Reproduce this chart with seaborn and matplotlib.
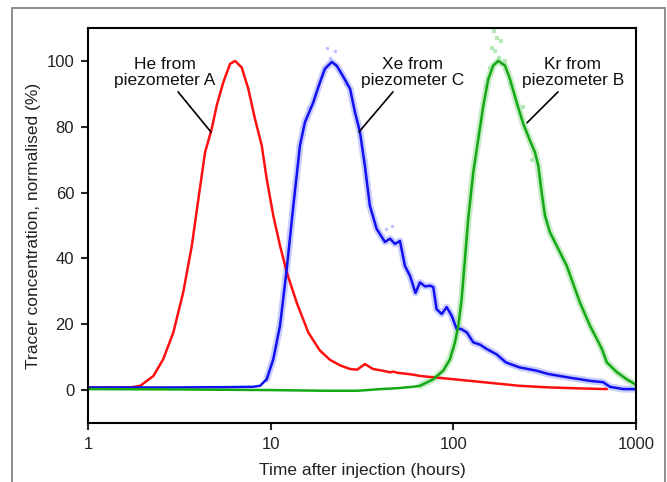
import numpy as np
import pandas as pd
import matplotlib
matplotlib.use("Agg")
import matplotlib.pyplot as plt
from matplotlib.patches import Rectangle
import seaborn as sns

# He from piezometer A (hours, % normalised)
he_t = [1, 1.4, 1.7, 1.93, 2.28, 2.58, 2.93, 3.32, 3.70, 4.02, 4.37, 4.75, 5.06, 5.50,
        5.99, 6.38, 6.94, 7.54, 8.20, 8.93, 9.51, 10.33, 11.24, 12.24, 13.87, 16.06,
        18.6, 21.1, 24.0, 27.2, 29.7, 32.8, 36.3, 40, 45, 47, 49, 60, 65.6, 77.5, 100,
        152, 230, 338, 500, 692]
he_y = [0.8, 0.8, 0.8, 1.3, 4.3, 9.4, 17.5, 29.7, 43.9, 58.1, 72.2, 79.3, 86.4, 93.5,
        99.1, 100, 98, 91.5, 82.4, 74.3, 64.1, 53, 43.9, 35.8, 26.6, 17.5,
        12, 9.2, 7.5, 6.4, 6.2, 7.9, 6.4, 6.0, 5.4, 5.6, 5.3, 4.7, 4.3, 3.9, 3.3,
        2.3, 1.3, 0.8, 0.5, 0.3]

# Xe from piezometer C
xe_t = [1, 3, 6, 8, 8.74, 9.51, 10.33, 11.24, 12.24, 13.3, 14.46, 15.4, 17.1, 18.6,
        19.8, 21.6, 23, 24.8, 27.2, 28.9, 30.8, 32.8, 34.9, 38, 42.2, 45, 47.9, 51,
        54.3, 57.9, 62, 65.6, 70, 74.5, 77.6, 80.9, 86.3, 91.9, 97.9, 104.3, 110, 118.5,
        128.5, 140, 151.9, 172, 194, 230, 285, 330, 381, 430, 493, 560, 660, 720,
        850, 1000]
xe_y = [0.8, 0.8, 0.9, 1.0, 1.3, 3.3, 9.4, 19.5, 36.8, 56, 74.3, 81.4, 87.4, 93.5,
        97.6, 99.7, 98.5, 95.5, 91.5, 84.5, 78.4, 68, 56, 49, 45, 46, 44.4, 45.3,
        37.7, 34.7, 29.5, 32.7, 31.5, 31.7, 31.3, 24.6, 23.1, 25.2, 22.6, 18.5, 18.6, 17.5,
        14.5, 13.8, 12.5, 10.9, 8.4, 6.9, 5.9, 4.9, 4.3, 3.8, 3.3, 2.8, 2.4, 1.0,
        0.3, 0.3]

# Kr from piezometer B
kr_t = [1, 3, 10, 20, 30, 40, 50, 60, 65.6, 77.6, 88.0, 95.8, 102, 106.4, 111, 115.7,
        120.6, 128.5, 136.9, 145.8, 155.3, 165.3, 176.1, 191.6, 204, 222, 241.3, 262.6,
        279.7, 291.5, 304.2, 317.2, 337.9, 367.5, 417, 493, 560, 617, 650, 692, 787,
        888, 986, 1000]
kr_y = [0.3, 0.2, 0.0, -0.2, -0.2, 0.3, 0.6, 1.0, 1.3, 3.3, 5.9, 9.4, 14.5, 19.5, 27.7,
        39.8, 52, 66.2, 76.3, 86.4, 94.5, 98.6, 100, 98.6, 94.5, 87.4, 80.9, 75.8,
        72.2, 68.2, 60.1, 53, 47.9, 43.9, 37.8, 26.6, 19.5, 15, 12.5, 8.4, 5.4,
        3.3, 1.8, 1.6]

# a few raw Kr readings around the peak that scatter above the smoothed line
kr_raw_t = [150, 158, 163, 167, 170, 174, 178, 182, 186, 192, 205, 240, 270, 300]
kr_raw_y = [92, 98, 104, 109, 103, 107, 101, 106, 99, 100, 93, 86, 70, 64]

# raw Xe readings around its peak
xe_raw_t = [14.8, 16.0, 17.5, 19.0, 20.3, 21.0, 22.5, 24.0, 25.5, 33.0, 43.0, 46.0]
xe_raw_y = [78, 86, 90, 96, 104, 101, 103, 97, 93, 70, 49, 50]

labels = ["He from\npiezometer A", "Xe from\npiezometer C", "Kr from\npiezometer B"]
colors = ["#ff1010", "#1010f0", "#14a814"]
halo_colors = ["#ffb0b0", "#b4b8ff", "#b0e6b0"]

he = pd.DataFrame({"t": he_t, "c": he_y})
xe = pd.DataFrame({"t": xe_t, "c": xe_y})
kr = pd.DataFrame({"t": kr_t, "c": kr_y})

sns.set_style("ticks")
plt.rcParams["font.family"] = ["Liberation Sans", "DejaVu Sans"]

fig = plt.figure(figsize=(6.67, 4.82), dpi=100)
ax = fig.add_axes([0.132, 0.1224, 0.8216, 0.8195])

# outer grey frame around the figure
fig.patches.append(Rectangle((0.018, -0.02), 0.979, 1.003, transform=fig.transFigure,
                             fill=False, edgecolor="#7a7a7a", linewidth=1.2))

# light halo of raw data under each line
sns.lineplot(data=xe[xe["t"] > 9], x="t", y="c", ax=ax, color=halo_colors[1],
             linewidth=5, alpha=0.7)
sns.lineplot(data=kr[kr["t"] > 60], x="t", y="c", ax=ax, color=halo_colors[2],
             linewidth=5, alpha=0.7)
sns.scatterplot(x=kr_raw_t, y=kr_raw_y, ax=ax, color=halo_colors[2], s=8, marker="s",
                linewidth=0, alpha=0.9)
sns.scatterplot(x=xe_raw_t, y=xe_raw_y, ax=ax, color=halo_colors[1], s=6,
                linewidth=0, alpha=0.9)

sns.lineplot(data=he, x="t", y="c", ax=ax, color=colors[0], linewidth=1.8)
sns.lineplot(data=xe, x="t", y="c", ax=ax, color=colors[1], linewidth=1.8)
sns.lineplot(data=kr, x="t", y="c", ax=ax, color=colors[2], linewidth=1.8)

ax.set_xscale("log")
ax.set_xlim(1, 1000)
ax.set_ylim(-10, 110)
ax.set_xticks([1, 10, 100, 1000])
ax.set_xticklabels(["1", "10", "100", "1000"])
ax.minorticks_off()
ax.set_yticks([0, 20, 40, 60, 80, 100])

for s in ax.spines.values():
    s.set_linewidth(1.5)
    s.set_color("black")
ax.tick_params(direction="out", length=5, width=1.5, labelsize=12,
               labelcolor="#222222", pad=5)

ax.set_xlabel("Time after injection (hours)", fontsize=12.5, color="#222222", labelpad=8)
ax.set_ylabel("Tracer concentration, normalised (%)", fontsize=12.5, color="#222222",
              labelpad=4)

# labels with leader lines
text_pos = [(2.64, 96.6), (60.1, 96.6), (451, 96.6)]
line_from = [(3.11, 90.6), (46.7, 90.6), (374, 90.6)]
line_to = [(4.71, 78.4), (30.4, 78.4), (253, 81.2)]
for lab, tp, p0, p1 in zip(labels, text_pos, line_from, line_to):
    ax.text(tp[0], tp[1], lab, ha="center", va="center", fontsize=12.5, color="#111111",
            linespacing=1.08)
    ax.annotate("", xy=p1, xytext=p0,
                arrowprops=dict(arrowstyle="-", color="black", linewidth=1.2,
                                shrinkA=0, shrinkB=0))

fig.savefig("out.png", dpi=100)
